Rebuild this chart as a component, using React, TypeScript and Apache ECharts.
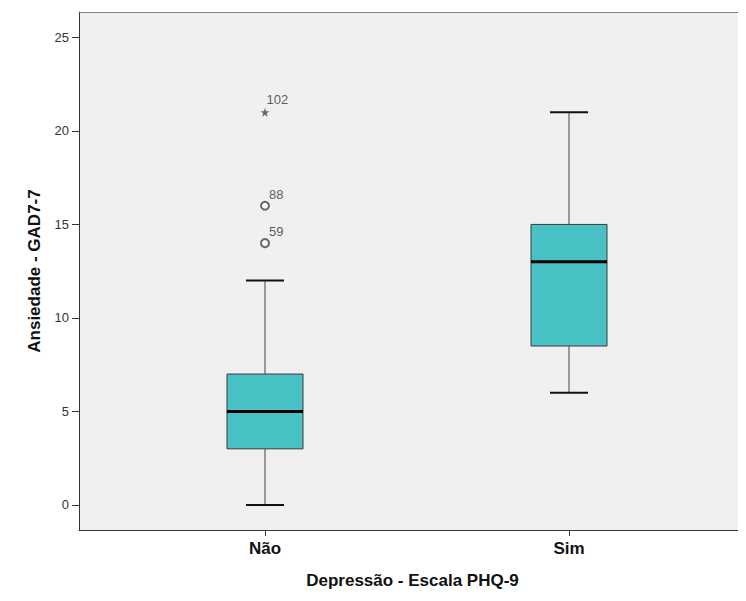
import React, { useEffect, useRef } from "react";
import * as echarts from "echarts";

const categories = ["Não", "Sim"];
const whiskerLow = [0, 6];
const q1 = [3, 8.5];
const median = [5, 13];
const q3 = [7, 15];
const whiskerHigh = [12, 21];
const outlierCategory = [0, 0];
const outlierValues = [14, 16];
const outlierCases = ["59", "88"];
const extremeCategory = [0];
const extremeValues = [21];
const extremeCases = ["102"];
const yTicks = [0, 5, 10, 15, 20, 25];

const STAR =
  "path://M50,0 L61,35 L98,35 L68,57 L79,91 L50,70 L21,91 L32,57 L2,35 L39,35 Z";

export default function App() {
  const ref = useRef<HTMLDivElement>(null);
  useEffect(() => {
    if (!ref.current) return;
    const chart = echarts.init(ref.current, null, { renderer: "svg" });
    const boxData = categories.map((_, i) => [
      i,
      whiskerLow[i],
      q1[i],
      median[i],
      q3[i],
      whiskerHigh[i],
    ]);
    const font = "'Liberation Sans', Arial, sans-serif";
    const xMin = -0.6118;
    const xMax = 1.5822;
    chart.setOption({
      animation: false,
      backgroundColor: "#ffffff",
      grid: {
        left: 79,
        top: 12,
        bottom: 71,
        right: 0,
        show: true,
        backgroundColor: "#f0f0f0",
        borderWidth: 0,
      },
      xAxis: [
        {
          type: "value",
          min: xMin,
          max: xMax,
          splitLine: { show: false },
          axisLine: { show: true, onZero: false, lineStyle: { color: "#333", width: 1 } },
          axisTick: {
            show: true,
            customValues: [0, 1],
            length: 6,
            lineStyle: { color: "#333" },
          },
          axisLabel: {
            customValues: [0, 1],
            formatter: (v: number) => categories[Math.round(v)] ?? "",
            fontFamily: font,
            fontWeight: "bold",
            fontSize: 17,
            color: "#111",
            margin: 10,
          },
          name: "Depressão - Escala PHQ-9",
          nameLocation: "middle",
          nameGap: 42,
          nameTextStyle: {
            fontFamily: font,
            fontWeight: "bold",
            fontSize: 17,
            color: "#111",
          },
        },
        {
          type: "value",
          position: "top",
          min: xMin,
          max: xMax,
          splitLine: { show: false },
          axisLine: { show: true, onZero: false, lineStyle: { color: "#808080", width: 1 } },
          axisTick: { show: false },
          axisLabel: { show: false },
        },
      ],
      yAxis: {
        type: "value",
        min: -1.34,
        max: 26.36,
        splitLine: { show: false },
        axisLine: { show: true, onZero: false, lineStyle: { color: "#333", width: 1 } },
        axisTick: {
          show: true,
          customValues: yTicks,
          length: 7,
          lineStyle: { color: "#333" },
        },
        axisLabel: {
          customValues: yTicks,
          fontFamily: font,
          fontSize: 13,
          color: "#333",
          margin: 10,
        },
        name: "Ansiedade - GAD7-7",
        nameLocation: "middle",
        nameGap: 36,
        nameTextStyle: {
          fontFamily: font,
          fontWeight: "bold",
          fontSize: 17,
          color: "#111",
        },
      },
      series: [
        {
          type: "custom",
          data: boxData,
          encode: { x: 0, y: [1, 2, 3, 4, 5] },
          renderItem: (params: any, api: any) => {
            const x = api.value(0);
            const pLo = api.coord([x, api.value(1)]);
            const pQ1 = api.coord([x, api.value(2)]);
            const pMed = api.coord([x, api.value(3)]);
            const pQ3 = api.coord([x, api.value(4)]);
            const pHi = api.coord([x, api.value(5)]);
            const band = api.size([1, 0])[0];
            const hb = band * 0.125;
            const hc = band * 0.0625;
            const cx = pLo[0];
            return {
              type: "group",
              children: [
                {
                  type: "line",
                  shape: { x1: cx, y1: pLo[1], x2: cx, y2: pQ1[1] },
                  style: { stroke: "#444", lineWidth: 1 },
                },
                {
                  type: "line",
                  shape: { x1: cx, y1: pQ3[1], x2: cx, y2: pHi[1] },
                  style: { stroke: "#444", lineWidth: 1 },
                },
                {
                  type: "line",
                  shape: { x1: cx - hc, y1: pLo[1], x2: cx + hc, y2: pLo[1] },
                  style: { stroke: "#111", lineWidth: 2 },
                },
                {
                  type: "line",
                  shape: { x1: cx - hc, y1: pHi[1], x2: cx + hc, y2: pHi[1] },
                  style: { stroke: "#111", lineWidth: 2 },
                },
                {
                  type: "rect",
                  shape: { x: cx - hb, y: pQ3[1], width: 2 * hb, height: pQ1[1] - pQ3[1] },
                  style: { fill: "#48c2c5", stroke: "#3a3a3a", lineWidth: 1 },
                },
                {
                  type: "line",
                  shape: { x1: cx - hb, y1: pMed[1], x2: cx + hb, y2: pMed[1] },
                  style: { stroke: "#000", lineWidth: 3 },
                },
              ],
            };
          },
        },
        {
          type: "scatter",
          symbol: "emptyCircle",
          symbolSize: 8,
          itemStyle: { color: "#444", borderColor: "#444", borderWidth: 1.3 },
          data: outlierValues.map((v, i) => ({
            value: [outlierCategory[i], v],
            name: outlierCases[i],
          })),
          label: {
            show: true,
            formatter: (p: any) => p.name,
            position: [9, -13],
            align: "left",
            verticalAlign: "top",
            fontFamily: font,
            fontSize: 13,
            color: "#333",
          },
        },
        {
          type: "scatter",
          symbol: STAR,
          symbolSize: 9,
          itemStyle: { color: "#444" },
          data: extremeValues.map((v, i) => ({
            value: [extremeCategory[i], v],
            name: extremeCases[i],
          })),
          label: {
            show: true,
            formatter: (p: any) => p.name,
            position: [6, -15],
            align: "left",
            verticalAlign: "top",
            fontFamily: font,
            fontSize: 13,
            color: "#333",
          },
        },
      ],
    });
    return () => chart.dispose();
  }, []);
  return <div ref={ref} style={{ width: 746, height: 601, margin: -8 }} />;
}
